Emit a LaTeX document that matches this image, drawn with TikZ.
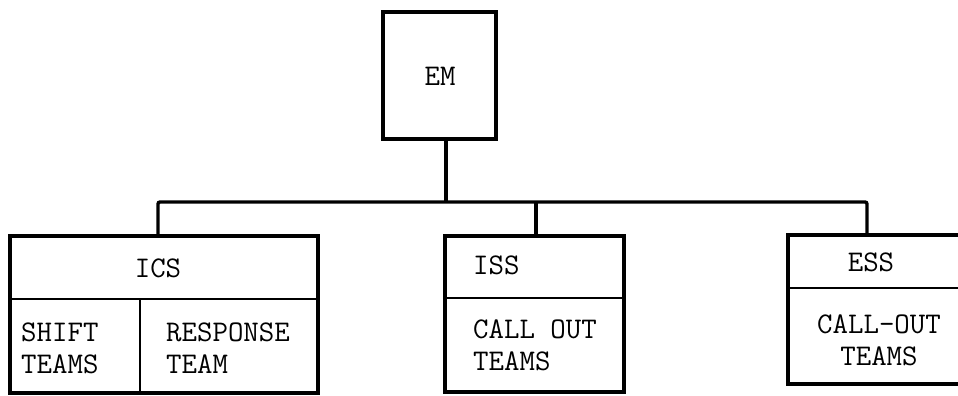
\documentclass[tikz,border=0pt]{standalone}
\usepackage{fontspec}
\begin{document}
\begin{tikzpicture}[x=1pt,y=-1pt,
  box/.style={draw, line width=3.6pt, rectangle, inner sep=0pt},
  thin/.style={line width=2.8pt},
  lbl/.style={inner sep=0pt, font=\ttfamily\addfontfeatures{FakeBold=0.6}\fontsize{30}{32}\selectfont, align=left},
  conn/.style={line width=3.4pt, rounded corners=2pt}]
\useasboundingbox (0,0) rectangle (958,396);
\clip (0,0) rectangle (958,396);
% boxes
\node[box, minimum width=113pt, minimum height=127pt] (em) at (439.5,75.5) {};
\node[box, minimum width=308pt, minimum height=157pt] (ics) at (164,314.5) {};
\node[box, minimum width=179pt, minimum height=156pt] (iss) at (534.5,314) {};
\node[box, minimum width=174pt, minimum height=149pt] (ess) at (875,309.5) {};
% dividers
\coordinate (icsdiv) at (0,299);
\coordinate (icsv) at (140,0);
\coordinate (issdiv) at (0,298);
\coordinate (essdiv) at (0,288);
\draw[thin] (ics.west |- icsdiv) -- (ics.east |- icsdiv);
\draw[thin] (icsv |- icsdiv) -- (icsv |- ics.south);
\draw[thin] (iss.west |- issdiv) -- (iss.east |- issdiv);
\draw[thin] (ess.west |- essdiv) -- (ess.east |- essdiv);
% texts
\node[lbl] (tem) at (440,76) {EM};
\node[lbl] (tics) at (158,268) {ICS};
\node[lbl, anchor=west] (tshift) at (21,348) {SHIFT\\TEAMS};
\node[lbl, anchor=west] (tresp) at (166,348) {RESPONSE\\TEAM};
\node[lbl, anchor=west] (tiss) at (473,265.5) {ISS};
\node[lbl, anchor=west] (tcall) at (473,345.5) {CALL OUT\\TEAMS};
\node[lbl] (tess) at (871,262.5) {ESS};
\node[lbl, align=center] (tcall2) at (879,340) {CALL-OUT\\TEAMS};
% connectors
\coordinate (bl) at (158,202);
\coordinate (bm) at (446,202);
\coordinate (br) at (867,202);
\draw[conn] (em.south -| bm) -- (bm);
\draw[conn] (ics.north -| bl) -- (bl) -- (br) -- (ess.north -| br);
\draw[conn] (iss.north -| 536,0) -- (bl -| 536,0);
\end{tikzpicture}
\end{document}
